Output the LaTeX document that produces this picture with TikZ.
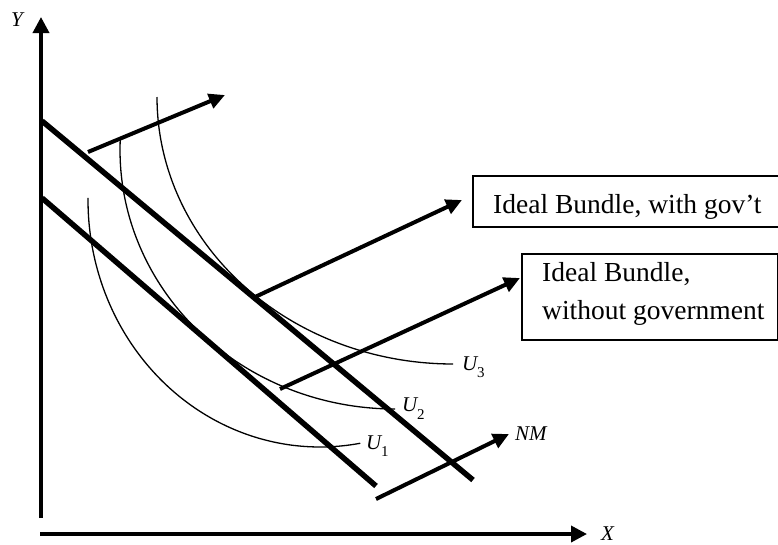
\documentclass[tikz,border=0pt]{standalone}
\usepackage{fontspec}
\setmainfont{Liberation Serif}
\usetikzlibrary{arrows.meta}
\begin{document}
\begin{tikzpicture}[x=1pt,y=-1pt,
  axis/.style={line width=3.6pt, -{Triangle[length=16pt,width=16pt]}},
  budget/.style={line width=5.5pt},
  shiftarrow/.style={line width=4pt, -{Triangle[length=16pt,width=15pt]}},
  ucurve/.style={line width=1.3pt},
  lbl/.style={font=\fontsize{21}{21}\selectfont\itshape, inner sep=0pt, anchor=base west},
  subl/.style={font=\fontsize{15}{15}\selectfont, inner sep=0pt, anchor=base west},
  boxtext/.style={font=\fontsize{27.5}{27.5}\selectfont, inner sep=0pt, anchor=base west},
  labelbox/.style={draw, line width=1.5pt, anchor=north west, inner sep=0pt}]
\useasboundingbox (0,0) rectangle (778,544);

% axes
\coordinate (ybot) at (41,518);
\coordinate (ytop) at (41,17);
\coordinate (xleft) at (40,534);
\coordinate (xright) at (587,534);
\draw[axis] (ybot) -- (ytop);
\draw[axis] (xleft) -- (xright);
\node[lbl] (ylab) at (11,26) {Y};
\node[lbl] (xlab) at (601,540) {X};

% indifference curves
\draw[ucurve] plot[domain=180:90, samples=90, variable=\t] ({453+296*cos(\t)},{97+267*sin(\t)});
\draw[ucurve] plot[domain=182.7:90, samples=90, variable=\t] ({395+275*cos(\t)},{150+259*sin(\t)});
\draw[ucurve] plot[domain=180.5:80, samples=90, variable=\t] ({320+232*cos(\t)},{200+247*sin(\t)});

% budget lines
\coordinate (b1s) at (42,121);
\coordinate (b1e) at (473,480);
\coordinate (b2s) at (42,198);
\coordinate (b2e) at (376,486);
\draw[budget] (b1s) -- (b1e);
\draw[budget] (b2s) -- (b2e);

% shift arrows
\coordinate (a1s) at (88,152);
\coordinate (a1e) at (225,95);
\coordinate (a2s) at (255,297);
\coordinate (a2e) at (462,200);
\coordinate (a3s) at (280,389);
\coordinate (a3e) at (520,278);
\coordinate (a4s) at (376,499);
\coordinate (a4e) at (509,434);
\draw[shiftarrow] (a1s) -- (a1e);
\draw[shiftarrow] (a2s) -- (a2e);
\draw[shiftarrow] (a3s) -- (a3e);
\draw[shiftarrow] (a4s) -- (a4e);

% curve labels
\node[lbl] (u3) at (462,370) {U};
\node[subl] (u3s) at (477,377) {3};
\node[lbl] (u2) at (402,411) {U};
\node[subl] (u2s) at (417,419) {2};
\node[lbl] (u1) at (366,449) {U};
\node[subl] (u1s) at (381,456) {1};
\node[font=\fontsize{21}{21}\selectfont\itshape, inner sep=0pt, anchor=base west] (nm) at (515,440) {NM};

% boxes
\node[labelbox, minimum width=330pt, minimum height=51pt] (box1) at (472,175) {};
\node[boxtext] (t1) at (493,213) {Ideal Bundle, with gov’t};
\node[labelbox, minimum width=256pt, minimum height=86pt] (box2) at (521,253) {};
\node[boxtext] (t2a) at (542,281) {Ideal Bundle,};
\node[boxtext] (t2b) at (542,319) {without government};
\end{tikzpicture}
\end{document}
